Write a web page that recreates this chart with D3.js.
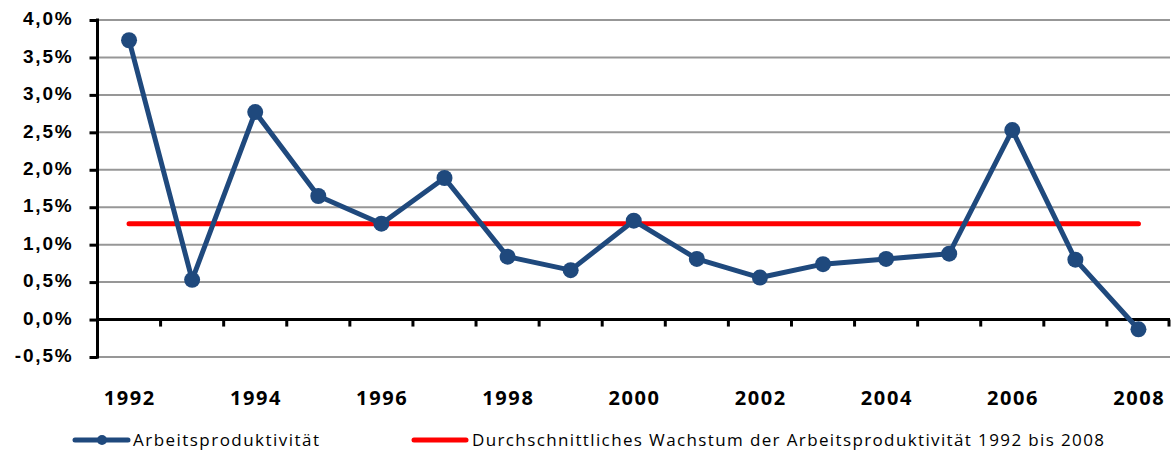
<!DOCTYPE html>
<html>
<head>
<meta charset="utf-8">
<script src="https://cdn.jsdelivr.net/npm/d3@7"></script>
<style>
  body { margin: 0; background: #fff; }
  svg { display: block; font-family: "Open Sans", "Liberation Sans", sans-serif; }
</style>
</head>
<body>
<div id="chart"></div>
<script>
// chart size
const width = 1171,
  height = 452,
  margin = { top: 20, bottom: 95, left: 97.5, right: 1 };

// data
const years = ["1992", "1993", "1994", "1995", "1996", "1997", "1998", "1999", "2000",
  "2001", "2002", "2003", "2004", "2005", "2006", "2007", "2008"];
const productivity = [3.73, 0.53, 2.77, 1.65, 1.28, 1.89, 0.84, 0.66, 1.32,
  0.81, 0.56, 0.74, 0.81, 0.88, 2.53, 0.80, -0.13];
const average = 1.28;
const yTicks = [-0.5, 0, 0.5, 1, 1.5, 2, 2.5, 3, 3.5, 4];
const xLabels = ["1992", "1994", "1996", "1998", "2000", "2002", "2004", "2006", "2008"];
const seriesNames = ["Arbeitsproduktivität", "Durchschnittliches Wachstum der Arbeitsproduktivität 1992 bis 2008"];

const blue = "#1f497d", red = "#ff0000";

const svg = d3.select("#chart").append("svg")
  .attr("width", width)
  .attr("height", height);

const xScale = d3.scaleBand()
  .domain(years)
  .range([margin.left, width - margin.right]);

const yScale = d3.scaleLinear()
  .domain([-0.5, 4])
  .range([height - margin.bottom, margin.top]);

const xPos = d => xScale(d) + xScale.bandwidth() / 2;
const fmt = v => d3.format(".1f")(v).replace(".", ",").replace("−", "-") + "%";

// gridlines
svg.append("g")
  .selectAll("line")
  .data(yTicks)
  .join("line")
  .attr("x1", margin.left)
  .attr("x2", width - margin.right)
  .attr("y1", d => yScale(d))
  .attr("y2", d => yScale(d))
  .attr("stroke", "#979797")
  .attr("stroke-width", 2);

// y axis
const yAxis = d3.axisLeft(yScale)
  .tickValues(yTicks)
  .tickSize(8)
  .tickPadding(16)
  .tickFormat(fmt);

const yAxisGroup = svg.append("g")
  .attr("transform", `translate(${margin.left},0)`)
  .call(yAxis);
yAxisGroup.select(".domain").attr("stroke", "#000").attr("stroke-width", 3)
  .attr("d", `M0,${yScale(-0.5) + 1.5}V${yScale(4) - 1.5}`);
yAxisGroup.selectAll(".tick line").attr("stroke", "#000").attr("stroke-width", 3);
yAxisGroup.selectAll(".tick text")
  .attr("fill", "#000")
  .attr("font-size", 19)
  .attr("font-weight", "bold")
  .attr("letter-spacing", 1.8)
  .attr("dy", "0.25em");

// x axis at 0
const xAxisGroup = svg.append("g")
  .attr("transform", `translate(0,${yScale(0)})`);
xAxisGroup.append("line")
  .attr("x1", margin.left)
  .attr("x2", width - margin.right)
  .attr("stroke", "#000")
  .attr("stroke-width", 3);
xAxisGroup.selectAll(".xtick")
  .data(years.slice(1).concat(["end"]))
  .join("line")
  .attr("class", "xtick")
  .attr("x1", (d, i) => i < years.length - 1 ? xScale(d) : width - margin.right - 1)
  .attr("x2", (d, i) => i < years.length - 1 ? xScale(d) : width - margin.right - 1)
  .attr("y1", 0)
  .attr("y2", 7)
  .attr("stroke", "#000")
  .attr("stroke-width", 3);

// x labels
svg.append("g")
  .selectAll("text")
  .data(xLabels)
  .join("text")
  .attr("x", d => xPos(d) + 0.8)
  .attr("y", 405)
  .attr("text-anchor", "middle")
  .attr("font-size", 20)
  .attr("font-weight", "bold")
  .attr("letter-spacing", 1.6)
  .text(d => d);

// average line
svg.append("line")
  .attr("x1", xPos(years[0]))
  .attr("x2", xPos(years[years.length - 1]))
  .attr("y1", yScale(average))
  .attr("y2", yScale(average))
  .attr("stroke", red)
  .attr("stroke-width", 5)
  .attr("stroke-linecap", "round");

// productivity line
const line = d3.line()
  .x((d, i) => xPos(years[i]))
  .y(d => yScale(d));

svg.append("path")
  .datum(productivity)
  .attr("d", line)
  .attr("fill", "none")
  .attr("stroke", blue)
  .attr("stroke-width", 5)
  .attr("stroke-linejoin", "round");

svg.append("g")
  .selectAll("circle")
  .data(productivity)
  .join("circle")
  .attr("cx", (d, i) => xPos(years[i]))
  .attr("cy", d => yScale(d))
  .attr("r", 8)
  .attr("fill", blue);

// legend
const legend = svg.append("g").attr("transform", "translate(0,440)");
legend.append("line")
  .attr("x1", 75).attr("x2", 128)
  .attr("stroke", blue).attr("stroke-width", 5).attr("stroke-linecap", "round");
legend.append("circle")
  .attr("cx", 102).attr("r", 5).attr("fill", blue);
legend.append("text")
  .attr("x", 133).attr("y", 6)
  .attr("font-size", 17)
  .attr("textLength", 186)
  .attr("lengthAdjust", "spacing")
  .text(seriesNames[0]);
legend.append("line")
  .attr("x1", 414).attr("x2", 466)
  .attr("stroke", red).attr("stroke-width", 5).attr("stroke-linecap", "round");
legend.append("text")
  .attr("x", 472).attr("y", 6)
  .attr("font-size", 17)
  .attr("textLength", 632)
  .attr("lengthAdjust", "spacing")
  .text(seriesNames[1]);
</script>
</body>
</html>
